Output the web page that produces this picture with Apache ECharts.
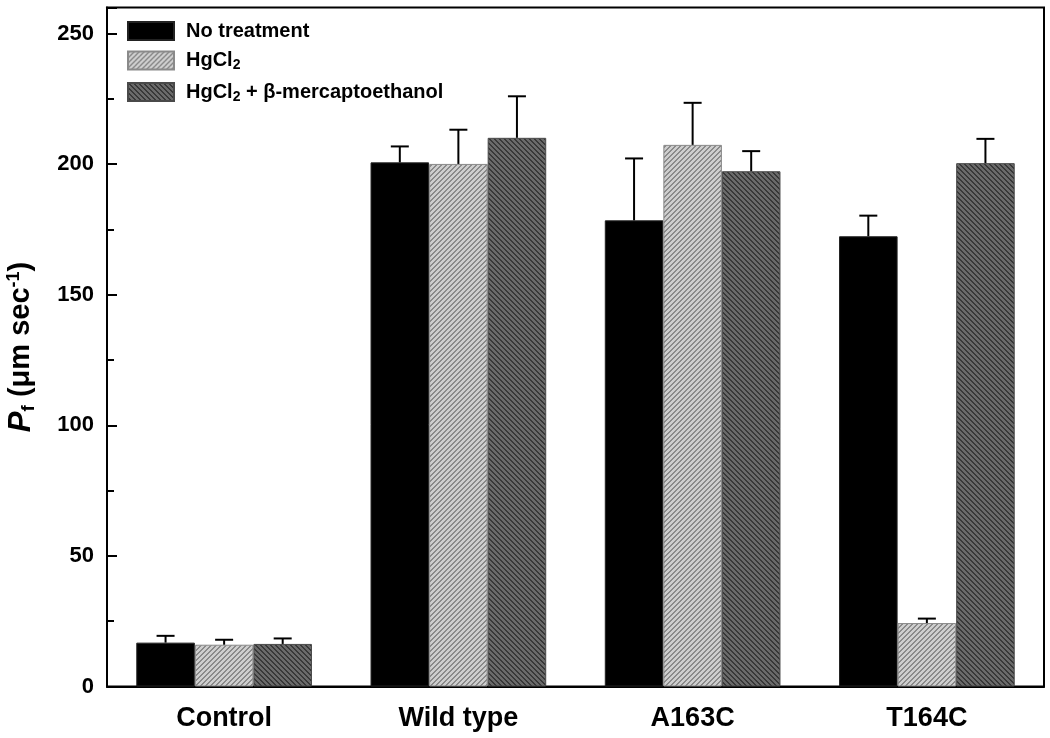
<!DOCTYPE html>
<html>
<head>
<meta charset="utf-8">
<script src="https://cdn.jsdelivr.net/npm/echarts@6/dist/echarts.min.js"></script>
<style>
html,body{margin:0;padding:0;background:#fff;}
#chart{width:1050px;height:738px;}
</style>
</head>
<body>
<div id="chart"></div>
<script>
// ---- data ----
const categories = ['Control', 'Wild type', 'A163C', 'T164C'];
const seriesNames = ['No treatment', 'HgCl2', 'HgCl2 + β-mercaptoethanol'];
const noTreatment = [16.8, 200.7, 178.5, 172.4];
const noTreatmentErr = [2.6, 6.1, 23.7, 7.9];
const hgcl2 = [16.0, 200.1, 207.4, 24.3];
const hgcl2Err = [1.9, 13.1, 16.1, 1.7];
const hgcl2Me = [16.3, 210.1, 197.3, 200.4];
const hgcl2MeErr = [2.1, 15.9, 7.7, 9.3];
const yTicks = [0, 50, 100, 150, 200, 250];

// ---- hatch patterns ----
function makeHatch(bg, fg, dir) {
  const n = 5;
  const c = document.createElement('canvas');
  c.width = n; c.height = n;
  const ctx = c.getContext('2d');
  const img = ctx.createImageData(n, n);
  const p = (h) => [parseInt(h.substr(1,2),16), parseInt(h.substr(3,2),16), parseInt(h.substr(5,2),16)];
  const b = p(bg), f = p(fg);
  for (let y = 0; y < n; y++) for (let x = 0; x < n; x++) {
    const k = dir === '/' ? ((x + y) % n) : (((x - y) % n) + n) % n;
    const col = k < 2 ? f : b;
    const i = (y * n + x) * 4;
    img.data[i] = col[0]; img.data[i+1] = col[1]; img.data[i+2] = col[2]; img.data[i+3] = 255;
  }
  ctx.putImageData(img, 0, 0);
  return { image: c, repeat: 'repeat' };
}
const lightHatch = makeHatch('#cecece', '#8a8a8a', '/');
const darkHatch = makeHatch('#6a6a6a', '#383838', '\\');

const values = [noTreatment, hgcl2, hgcl2Me];
const errs = [noTreatmentErr, hgcl2Err, hgcl2MeErr];
const fills = ['#000000', lightHatch, darkHatch];
const borders = ['#222222', '#8a8a8a', '#4a4a4a'];

const FONT = '"Liberation Sans", Arial, sans-serif';

const series = [];
values.forEach((arr, s) => {
  series.push({
    name: seriesNames[s],
    type: 'bar',
    data: arr,
    barWidth: '25%',
    barGap: '0%',
    itemStyle: { color: fills[s], borderColor: borders[s], borderWidth: 1 },
    emphasis: { disabled: true },
    z: 2
  });
});
values.forEach((arr, s) => {
  series.push({
    name: 'err' + s,
    type: 'custom',
    data: arr.map((v, i) => [i, v, errs[s][i], s]),
    z: 3,
    silent: true,
    renderItem: function (params, api) {
      const ci = api.value(0), v = api.value(1), e = api.value(2), si = api.value(3);
      const bw = api.size([1, 0])[0] * 0.25;
      const base = api.coord([ci, v]);
      const top = api.coord([ci, v + e]);
      const x = base[0] + (si - 1) * bw;
      const st = { stroke: '#000', lineWidth: 2, fill: null };
      return {
        type: 'group',
        children: [
          { type: 'line', shape: { x1: x, y1: base[1], x2: x, y2: top[1] }, style: st },
          { type: 'line', shape: { x1: x - 9, y1: top[1], x2: x + 9, y2: top[1] }, style: st }
        ]
      };
    }
  });
});

const chart = echarts.init(document.getElementById('chart'), null, { renderer: 'canvas' });
chart.setOption({
  animation: false,
  backgroundColor: '#fff',
  grid: {
    left: 107, right: 6, top: 7.5, bottom: 51.5,
    containLabel: false, outerBoundsMode: 'none',
    show: true, borderColor: '#000', borderWidth: 2, backgroundColor: 'transparent'
  },
  legend: {
    data: seriesNames,
    orient: 'vertical',
    left: 127, top: 21,
    padding: 0,
    itemWidth: 46, itemHeight: 18, itemGap: 7.5,
    selectedMode: false,
    icon: 'rect',
    formatter: function (name) {
      if (name === 'HgCl2') return '{t|HgCl}{s|2}';
      if (name === 'HgCl2 + β-mercaptoethanol') return '{t|HgCl}{s|2}{t| + β-mercaptoethanol}';
      return '{t|' + name + '}';
    },
    textStyle: {
      padding: [0, 0, 0, 7],
      rich: {
        t: { fontFamily: FONT, fontWeight: 'bold', fontSize: 20, color: '#000', lineHeight: 20 },
        s: { fontFamily: FONT, fontWeight: 'bold', fontSize: 14, color: '#000', padding: [10, 0, 0, 0], lineHeight: 10 }
      }
    }
  },
  xAxis: {
    type: 'category',
    data: categories,
    axisLine: { show: true, lineStyle: { color: '#000', width: 2 } },
    axisTick: { show: false },
    axisLabel: { fontFamily: FONT, fontWeight: 'bold', fontSize: 27, color: '#000', margin: 19 },
    splitLine: { show: false }
  },
  yAxis: {
    type: 'value',
    min: 0, max: 260, interval: 50,
    axisLine: { show: true, lineStyle: { color: '#000', width: 2 } },
    axisTick: { show: true, inside: true, length: 10, lineStyle: { color: '#000', width: 2 } },
    minorTick: { show: true, splitNumber: 2, length: 7, lineStyle: { color: '#000', width: 2 } },
    axisLabel: {
      fontFamily: FONT, fontWeight: 'bold', fontSize: 22, color: '#000', margin: 13,
      formatter: function (v) { return yTicks.indexOf(v) >= 0 ? String(v) : ''; }
    },
    splitLine: { show: false },
    name: '{i|P}{sub|f}{n| (μm sec}{sup|-1}{n|)}',
    nameLocation: 'middle',
    nameGap: 69,
    nameRotate: 90,
    nameTextStyle: {
      rich: {
        i: { fontFamily: FONT, fontWeight: 'bold', fontStyle: 'italic', fontSize: 31, color: '#000', lineHeight: 34 },
        sub: { fontFamily: FONT, fontWeight: 'bold', fontSize: 19, color: '#000', padding: [16, 0, 0, 0], lineHeight: 34 },
        n: { fontFamily: FONT, fontWeight: 'bold', fontSize: 29, color: '#000', lineHeight: 34 },
        sup: { fontFamily: FONT, fontWeight: 'bold', fontSize: 18, color: '#000', padding: [0, 0, 14, 0], lineHeight: 34 }
      }
    }
  },
  series: series
});
</script>
</body>
</html>
